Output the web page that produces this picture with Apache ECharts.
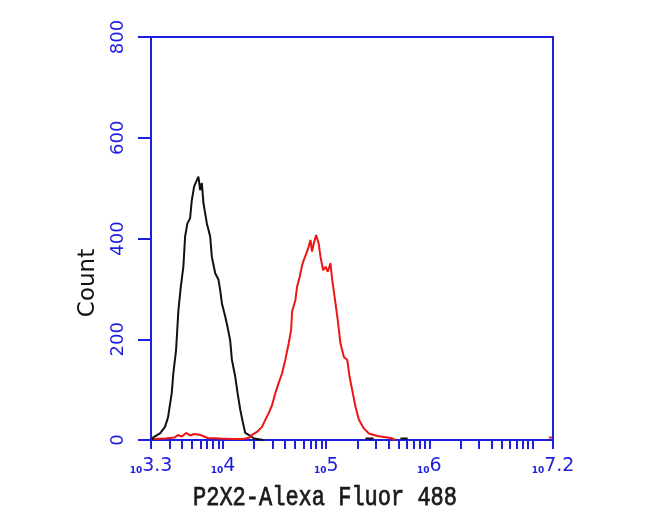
<!DOCTYPE html>
<html><head><meta charset="utf-8">
<script src="https://cdn.jsdelivr.net/npm/echarts@6/dist/echarts.min.js"></script>
<style>html,body{margin:0;padding:0;background:#fff}#c{width:650px;height:519px}</style>
</head><body><div id="c"></div>
<script>
// ---- data (x values are log10 of fluorescence intensity) ----
const yTicks = [0, 200, 400, 600, 800];
const xLabelExponents = [3.3, 4, 5, 6, 7.2];
const xLabelTexts = ['3.3', '4', '5', '6', '7.2'];
const tickDecades = [3, 4, 5, 6];          // ticks at 2..10 x 10^decade
const tickMultipliers = [2, 3, 4, 5, 6, 7, 8, 9, 10];
const xMinExp = 3.3, xMaxExp = 7.2;

const blackX = [3.31, 3.322, 3.388, 3.436, 3.465, 3.501, 3.517, 3.543, 3.566, 3.589, 3.614, 3.631, 3.653, 3.679, 3.696, 3.718, 3.745, 3.760, 3.777, 3.793, 3.809, 3.842, 3.874, 3.890, 3.923, 3.955, 3.971, 3.988, 4.020, 4.042, 4.068, 4.085, 4.117, 4.140, 4.166, 4.192, 4.214, 4.263, 4.30, 4.389, null, 5.38, 5.46, null, 5.72, 5.79];
const blackY = [0, 5, 13, 26, 45, 93, 133, 178, 258, 304, 344, 404, 430, 440, 476, 503, 516, 523, 496, 510, 470, 430, 404, 364, 331, 318, 298, 271, 245, 225, 198, 159, 126, 93, 60, 34, 14, 8, 3, 0, null, 3, 3, null, 3, 3];

const redX = [3.33, 3.44, 3.53, 3.56, 3.60, 3.64, 3.68, 3.72, 3.78, 3.85, 3.97, 4.10, 4.20, 4.26, 4.280, 4.328, 4.377, 4.409, 4.441, 4.474, 4.506, 4.538, 4.571, 4.603, 4.636, 4.659, 4.669, 4.701, 4.717, 4.743, 4.766, 4.782, 4.808, 4.830, 4.847, 4.863, 4.879, 4.902, 4.927, 4.944, 4.970, 4.993, 5.015, 5.041, 5.058, 5.090, 5.112, 5.138, 5.171, 5.204, 5.226, 5.252, 5.284, 5.317, 5.365, 5.414, 5.496, 5.625, 5.674, null, 7.16, 7.19];
const redY = [2, 3, 5, 10, 7, 14, 9, 12, 10, 4, 3, 2, 2, 5, 10, 16, 26, 40, 53, 69, 93, 113, 132, 159, 192, 218, 255, 278, 304, 324, 347, 357, 371, 384, 397, 374, 390, 407, 390, 364, 337, 344, 334, 351, 318, 271, 238, 192, 165, 159, 126, 99, 66, 40, 23, 13, 8, 4, 0, null, 5, 5];

// ---- build ----
const BLUE = '#1e1ee0';
const tickValues = [];
tickDecades.forEach(d => tickMultipliers.forEach(m => {
  const v = Math.log10(m * Math.pow(10, d));
  if (v >= xMinExp - 1e-9 && v <= xMaxExp + 1e-9) tickValues.push(+v.toFixed(4));
}));
tickValues.push(xMaxExp);
function pairs(xs, ys) { return xs.map((x, i) => x === null ? ['-', '-'] : [x, ys[i]]); }

const chart = echarts.init(document.getElementById('c'), null, {renderer: 'canvas'});
chart.setOption({
  animation: false,
  backgroundColor: '#fff',
  grid: {left: 151, top: 37, right: 97, bottom: 79, show: true, borderColor: BLUE, borderWidth: 2, backgroundColor: 'transparent'},
  xAxis: {
    type: 'value', min: xMinExp, max: xMaxExp,
    axisLine: {show: true, lineStyle: {color: BLUE, width: 2}},
    axisTick: {show: true, length: 9, customValues: tickValues, lineStyle: {color: BLUE, width: 2}},
    splitLine: {show: false},
    axisLabel: {
      show: true, margin: 17, customValues: xLabelExponents,
      formatter: v => { const i = xLabelExponents.findIndex(e => Math.abs(e - v) < 1e-6); return '{s|10}{n|' + xLabelTexts[i] + '}'; },
      rich: {
        s: {fontSize: 9, fontWeight: 'bold', color: BLUE, fontFamily: 'DejaVu Sans', verticalAlign: 'bottom', padding: [0, 0, 1, 0]},
        n: {fontSize: 19, color: BLUE, fontFamily: 'DejaVu Sans', verticalAlign: 'bottom'}
      }
    }
  },
  yAxis: {
    type: 'value', min: 0, max: 800, interval: 200,
    axisLine: {show: true, lineStyle: {color: BLUE, width: 2}},
    axisTick: {show: true, length: 13, lineStyle: {color: BLUE, width: 2}},
    splitLine: {show: false},
    axisLabel: {rotate: 90, margin: 24, color: BLUE, fontSize: 18, fontFamily: 'DejaVu Sans',
      formatter: v => yTicks.includes(v) ? String(v) : ''}
  },
  graphic: [
    {type: 'text', x: 325, y: 498, scaleY: 1.25, style: {text: 'P2X2-Alexa Fluor 488', font: '22px "Liberation Mono", "Courier New", Courier, monospace', fill: '#1a1a1a', stroke: '#1a1a1a', lineWidth: 0.6, textAlign: 'center', textVerticalAlign: 'middle'}},
    {type: 'text', x: 88, y: 283, rotation: Math.PI / 2, style: {text: 'Count', fontFamily: 'DejaVu Sans', fontSize: 23, fill: '#111', textAlign: 'center', textVerticalAlign: 'middle'}}
  ],
  series: [
    {type: 'line', data: pairs(blackX, blackY), showSymbol: false, connectNulls: false, lineStyle: {color: '#111', width: 2}, z: 3},
    {type: 'line', data: pairs(redX, redY), showSymbol: false, connectNulls: false, lineStyle: {color: '#ee1515', width: 2}, z: 4}
  ]
});
</script>
</body></html>
